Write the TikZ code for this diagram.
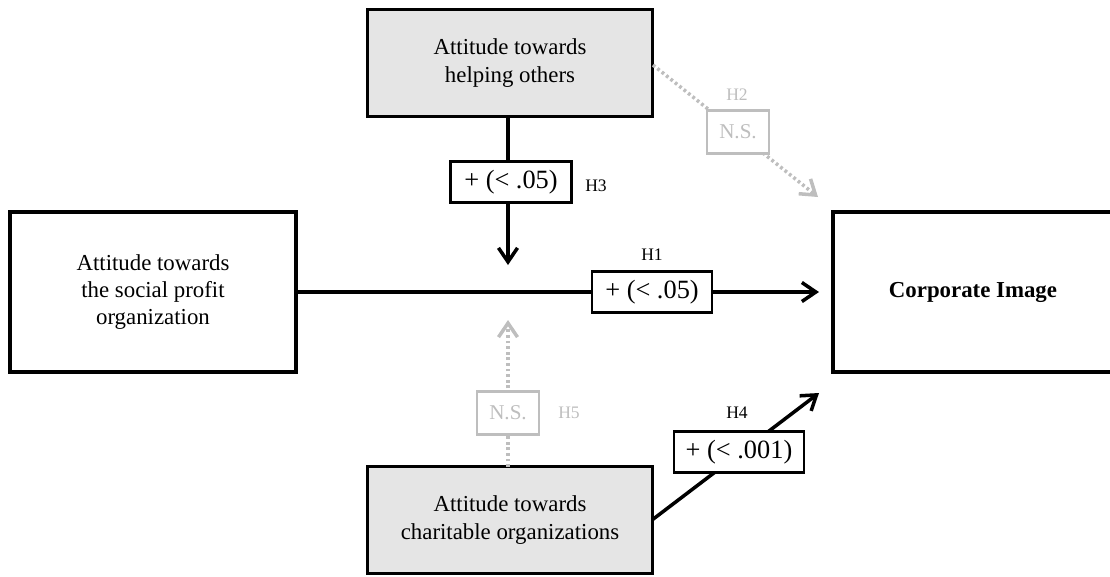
\documentclass[tikz,border=0pt]{standalone}
\usepackage{fontspec}
\setmainfont{Liberation Serif}
\usetikzlibrary{arrows.meta}

\definecolor{boxgray}{HTML}{E5E5E5}
\definecolor{nsgray}{HTML}{BEBEBE}

\begin{document}
\begin{tikzpicture}[x=0.02cm, y=-0.02cm,
    construct/.style={draw, line width=2pt, align=center, inner sep=0pt,
        font=\fontsize{13}{15.6}\selectfont},
    factor/.style={construct, fill=boxgray, minimum width=5.7cm, minimum height=2.14cm},
    result/.style={draw, fill=white, line width=1.2pt, inner sep=0pt,
        minimum height=0.82cm, font=\fontsize{15}{18}\selectfont},
    nsbox/.style={draw=nsgray, text=nsgray, fill=white, line width=1.3pt, inner sep=0pt,
        minimum width=1.24cm, minimum height=0.86cm, font=\fontsize{12}{14}\selectfont},
    hyp/.style={font=\fontsize{10}{12}\selectfont},
    path/.style={line width=2pt},
    nspath/.style={draw=nsgray, line width=2pt, dash pattern=on 1.6pt off 1.6pt},
    >={Straight Barb[length=2.8mm, width=3.8mm]}]
\useasboundingbox (0,0) rectangle (1110,576);

\node[construct, minimum width=5.72cm, minimum height=3.2cm] (spo) at (153,292)
    {Attitude towards\\the social profit\\organization};
\node[construct, minimum width=5.6cm, minimum height=3.2cm] (ci) at (973,292)
    {\bfseries Corporate Image};
\node[factor] (help) at (510,63) {Attitude towards\\helping others};
\node[factor] (char) at (510,520) {Attitude towards\\charitable organizations};

\coordinate (h1end) at (819,292);
\coordinate (h3end) at (508,265);
\coordinate (h5end) at (508,320);
\coordinate (h2end) at (818,197);
\coordinate (h4end) at (819,393);

% significant paths
\draw[path, ->] (spo.east) -- (h1end);
\draw[path, ->] (508,117) -- (h3end);
\draw[path, ->] (652,520) -- (h4end);

% non significant paths
\draw[nspath, ->] (508,467) -- (h5end);
\draw[nspath, ->] (653,65) -- (h2end);

\node[result, minimum width=2.4cm] (r1) at (652,292) {+ (< .05)};
\node[result, minimum width=2.42cm] (r3) at (511,182) {+ (< .05)};
\node[result, minimum width=2.6cm] (r4) at (739,452) {+ (< .001)};
\node[nsbox] (ns2) at (738,132) {N.S.};
\node[nsbox] (ns5) at (508,413) {N.S.};

\node[hyp] (lh1) at (652,255) {H1};
\node[hyp] (lh3) at (596,186) {H3};
\node[hyp] (lh4) at (737,413) {H4};
\node[hyp, text=nsgray] (lh2) at (737,95) {H2};
\node[hyp, text=nsgray] (lh5) at (569,413) {H5};
\end{tikzpicture}
\end{document}
